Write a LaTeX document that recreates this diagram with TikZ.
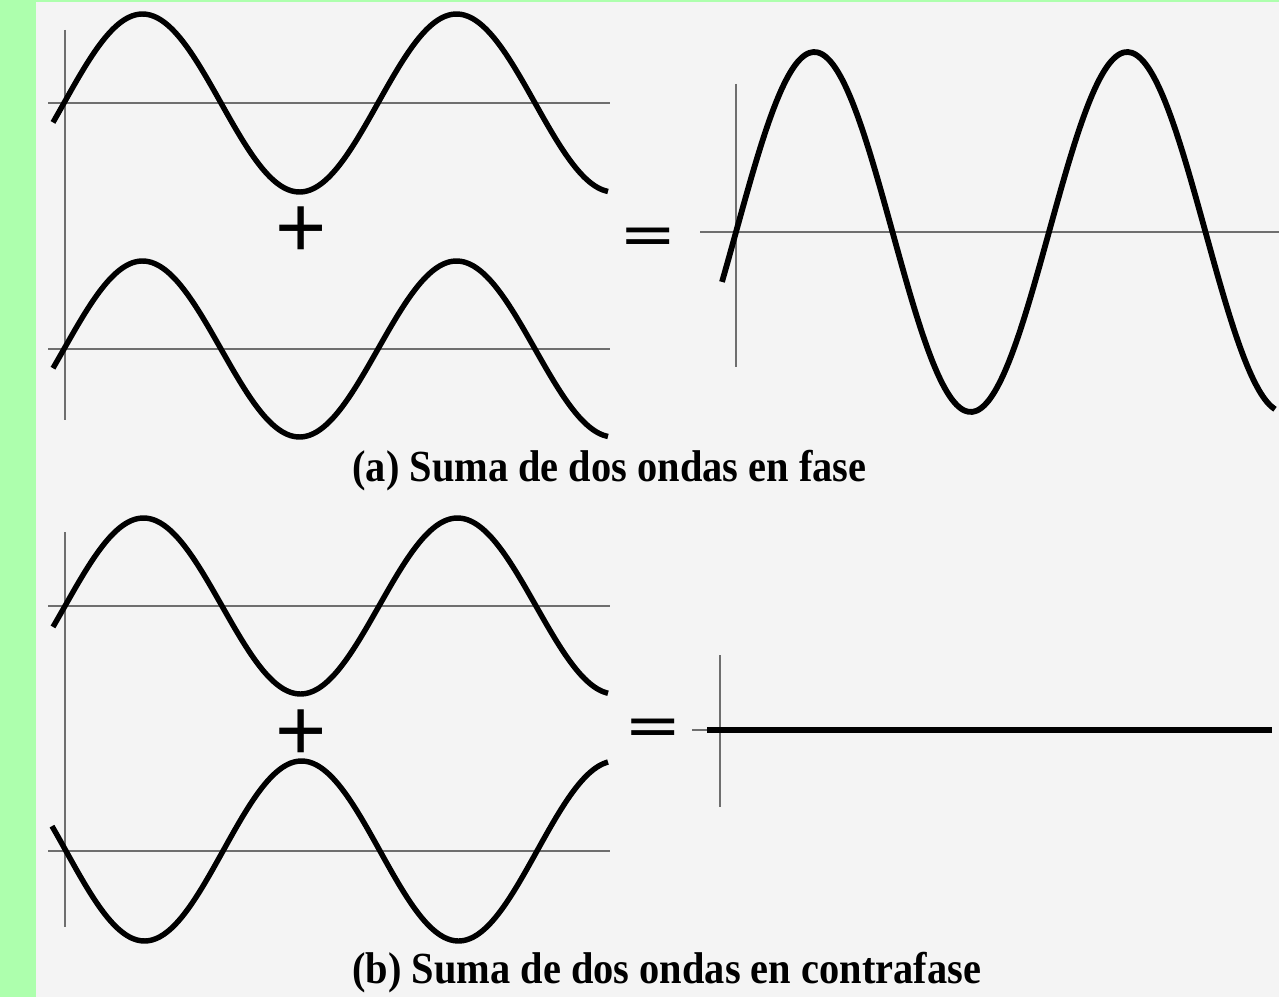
\documentclass[tikz,border=0pt]{standalone}
\usepackage{fontspec}
\setmainfont{Liberation Serif}
\newfontfamily\signfont{Liberation Sans}
\newfontfamily\eqfont{DejaVu Sans}
\usepackage{tikz}
\definecolor{PageGreen}{HTML}{ADFFAD}
\definecolor{PanelGray}{HTML}{F4F4F4}
\definecolor{AxisGray}{HTML}{6E6E6E}

\begin{document}
\begin{tikzpicture}[x=0.02cm,y=-0.02cm,
 axis/.style={draw=AxisGray,line width=0.8pt},
 wave/.style={draw=black,line width=3.1pt,line join=round},
 sign/.style={inner sep=0pt,font=\signfont\fontsize{50}{50}\selectfont},
 eqsign/.style={inner sep=0pt,font=\eqfont\fontsize{39}{39}\selectfont},
 caption/.style={anchor=base west,inner sep=0pt,
                 font=\bfseries\fontsize{23}{27}\selectfont}]
\useasboundingbox (0,0) rectangle (1279,997);
\fill[PageGreen] (0,0) rectangle (1279,997);
\fill[PanelGray] (36,2) rectangle (1279,997);

\draw[axis] (65,30) -- (65,420);
\draw[axis] (48,103) -- (610,103);
\draw[axis] (48,349) -- (610,349);
\draw[wave] plot[domain=53:608,samples=120,smooth] (\x,{103-89*sin(1.1465*(\x-64))});
\draw[wave] plot[domain=53:608,samples=120,smooth] (\x,{349-88*sin(1.1465*(\x-64))});
\node[sign] (plusA) at (301,232) {+};
\node[eqsign] (eqA) at (648,241) {\scalebox{1}[0.85]{=}};
\draw[axis] (736,84) -- (736,367);
\draw[axis] (700,232) -- (1279,232);
\draw[wave,line width=3.3pt] plot[domain=722:1275,samples=140,smooth] (\x,{232-180*sin(1.1502*(\x-736))});
\node[caption] (capA) at (352,481) {\scalebox{1}[1.1]{(a) Suma de dos ondas en fase}};

\draw[axis] (65,532) -- (65,927);
\draw[axis] (48,606) -- (610,606);
\draw[axis] (48,851) -- (610,851);
\draw[wave] plot[domain=53:608,samples=120,smooth] (\x,{606-88*sin(1.1465*(\x-65))});
\draw[wave] plot[domain=52:608,samples=120,smooth] (\x,{851+90*sin(1.1465*(\x-66))});
\node[sign] (plusB) at (301,735) {+};
\node[eqsign] (eqB) at (653,732) {\scalebox{1}[0.85]{=}};
\draw[axis] (720,655) -- (720,807);
\draw[axis] (692,730) -- (712,730);
\draw[wave,line width=2.9pt] (707,730) -- (1272,730);
\node[caption] (capB) at (352,983) {\scalebox{1}[1.1]{(b) Suma de dos ondas en contrafase}};
\end{tikzpicture}
\end{document}
